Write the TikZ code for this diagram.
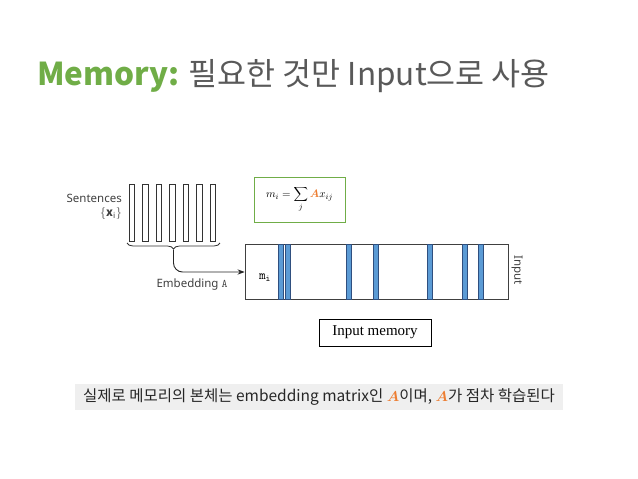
\documentclass[tikz,border=0pt]{standalone}
\usepackage{bm}
\usepackage{fontspec}
\setmainfont{Noto Sans CJK KR}
\newfontfamily\labelfont{Noto Sans}
\newfontfamily\boxfont{Liberation Serif}
\usetikzlibrary{decorations.pathreplacing,arrows.meta}
\definecolor{titlegreen}{HTML}{70AD47}
\definecolor{titlegray}{HTML}{595959}
\definecolor{aorange}{HTML}{ED7D31}
\definecolor{barblue}{HTML}{5B9BD5}
\definecolor{bardark}{HTML}{2F4F7F}
\definecolor{bannergray}{HTML}{EFEFEF}
\newcommand{\matA}{\textcolor{aorange}{\ensuremath{\bm{A}}}}
\tikzset{
  sentbox/.style={draw=black!80,line width=0.7pt,minimum width=5.5pt,minimum height=57pt,inner sep=0pt},
  membar/.style={draw=bardark,fill=barblue,line width=0.6pt,minimum width=5pt,minimum height=55pt,inner sep=0pt},
  smalllabel/.style={font=\labelfont\fontsize{11.5}{14}\selectfont,text=black!75},
}
\begin{document}
\begin{tikzpicture}[x=1pt,y=-1pt,>=Stealth]
  \useasboundingbox (0,0) rectangle (638,479);
  % title
  \node[anchor=base west,inner sep=0pt,font=\fontsize{31.5}{36}\selectfont] (title) at (37,85)
       {\textcolor{titlegreen}{\bfseries Memory:} \textcolor{titlegray}{필요한 것만 Input으로 사용}};
  % sentences
  \foreach \i in {0,...,6}
    \node[sentbox] (s\i) at (132+13.5*\i,212.5) {};
  \node[smalllabel,anchor=east,align=right,inner sep=0pt] (sentlabel) at (122,207)
       {Sentences\\$\{\mathbf{x}_{\mathrm{i}}\}$};
  \draw[black!80,line width=0.8pt,decorate,decoration={brace,amplitude=6pt,mirror}]
       (127,243) -- (220,243);
  \coordinate (bracetip) at (173.5,249.5);
  \node[smalllabel,inner sep=0pt] (emblabel) at (192,285) {Embedding \texttt{A}};
  % memory
  \node[draw=black!75,line width=0.8pt,minimum width=263pt,minimum height=55pt,inner sep=0pt] (mem) at (376.5,272) {};
  \foreach \x [count=\k] in {280.5,287.5,348.5,375.5,429.5,464.5,480.5}
    \node[membar] (b\k) at (\x,272) {};
  \node[inner sep=0pt,font=\fontsize{13}{15}\selectfont] (mlabel) at (265,278) {$\mathtt{m}_\mathtt{i}$};
  \node[smalllabel,rotate=-90,inner sep=0pt] (inlabel) at (517,270) {Input};
  \draw[->,black!85,line width=0.9pt,rounded corners=9pt] (bracetip) |- (mem.west);
  % formula
  \node[draw=titlegreen,line width=1pt,minimum width=91pt,minimum height=45pt] (formula) at (299.5,199.5)
       {\fontsize{11}{13}\selectfont $m_i=\displaystyle\sum_{j}\matA x_{ij}$};
  % input memory tag
  \node[draw=black,line width=1pt,minimum width=112pt,minimum height=27pt,inner sep=2pt,
        font=\boxfont\fontsize{15}{17}\selectfont] (memtag) at (375,332.5) {Input memory};
  % banner
  \node[fill=bannergray,minimum width=488pt,minimum height=26pt,inner sep=0pt,text=black!85,
        font=\fontsize{15.5}{18}\selectfont] (banner) at (319,397)
       {실제로 메모리의 본체는 embedding matrix인 \matA 이며, \matA 가 점차 학습된다};
\end{tikzpicture}
\end{document}
